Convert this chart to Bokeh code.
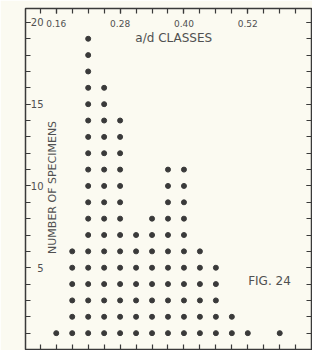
from bokeh.plotting import figure
from bokeh.models import Range1d, LinearAxis, FixedTicker, PrintfTickFormatter, Label, ColumnDataSource
from bokeh.embed import file_html
from bokeh.resources import INLINE

# ---- data ----
class_centers = [0.16, 0.19, 0.22, 0.25, 0.28, 0.31, 0.34, 0.37, 0.40, 0.43, 0.46, 0.49, 0.52, 0.55, 0.58]
counts = [1, 6, 19, 16, 14, 7, 8, 11, 11, 6, 5, 2, 1, 0, 1]
x_tick_positions = [0.13, 0.16, 0.19, 0.22, 0.25, 0.28, 0.31, 0.34, 0.37, 0.40, 0.43, 0.46, 0.49, 0.52, 0.55, 0.58, 0.61]
x_labeled_ticks = [0.16, 0.28, 0.40, 0.52]
y_labeled_ticks = [5, 10, 15, 20]
y_minor_ticks = list(range(0, 21))

# expand counts into stacked dots
xs, ys = [], []
for c, n in zip(class_centers, counts):
    for k in range(1, n + 1):
        xs.append(c)
        ys.append(k)
src = ColumnDataSource(dict(x=xs, y=ys))

BG = "#fbfaf1"
INK = "#3a3a3a"
TXT = "#505050"

p = figure(width=312, height=350, output_backend="svg", toolbar_location=None,
           x_range=Range1d(0.1022, 0.6397), y_range=Range1d(0, 20.85),
           x_axis_location=None, y_axis_location=None,
           min_border_left=25, min_border_top=8, min_border_right=1, min_border_bottom=1)
p.background_fill_color = BG
p.border_fill_color = BG
p.outline_line_color = INK
p.outline_line_width = 1.5
p.xgrid.visible = False
p.ygrid.visible = False

def style(ax, ticks, minor, labels):
    ax.ticker = FixedTicker(ticks=ticks, minor_ticks=minor)
    ax.axis_line_color = None
    ax.major_tick_in = 5
    ax.major_tick_out = 0
    ax.minor_tick_in = 5
    ax.minor_tick_out = 0
    ax.major_tick_line_color = INK
    ax.minor_tick_line_color = INK
    ax.major_tick_line_width = 1.2
    ax.minor_tick_line_width = 1.2
    if not labels:
        ax.major_label_text_color = None
        ax.major_label_text_font_size = "1px"
    else:
        ax.major_label_text_color = TXT
        ax.major_label_text_font = "DejaVu Sans"

top = LinearAxis()
style(top, x_labeled_ticks, x_tick_positions, True)
top.formatter = PrintfTickFormatter(format="%.2f")
top.major_label_text_font_size = "9px"
top.major_label_standoff = -18
p.add_layout(top, "above")

bottom = LinearAxis()
style(bottom, x_tick_positions, [], False)
p.add_layout(bottom, "below")

left = LinearAxis()
style(left, y_labeled_ticks, y_minor_ticks, True)
left.major_label_text_font_size = "10px"
left.major_label_standoff = -18
p.add_layout(left, "left")

right = LinearAxis()
style(right, y_labeled_ticks, y_minor_ticks, False)
p.add_layout(right, "right")

p.scatter("x", "y", source=src, size=5, color=INK)

p.add_layout(Label(x=0.3808, y=19.03, text="a/d CLASSES", text_align="center", text_baseline="middle",
                   text_font="DejaVu Sans", text_font_size="12px", text_color=TXT))
p.add_layout(Label(x=0.5607, y=4.19, text="FIG. 24", text_align="center", text_baseline="middle",
                   text_font="DejaVu Sans", text_font_size="12px", text_color=TXT))
p.add_layout(Label(x=0.1529, y=9.91, text="NUMBER OF SPECIMENS", text_align="center", text_baseline="middle",
                   angle=90, angle_units="deg",
                   text_font="DejaVu Sans", text_font_size="11px", text_color=TXT))

open("out.html", "w").write(file_html(p, INLINE))
